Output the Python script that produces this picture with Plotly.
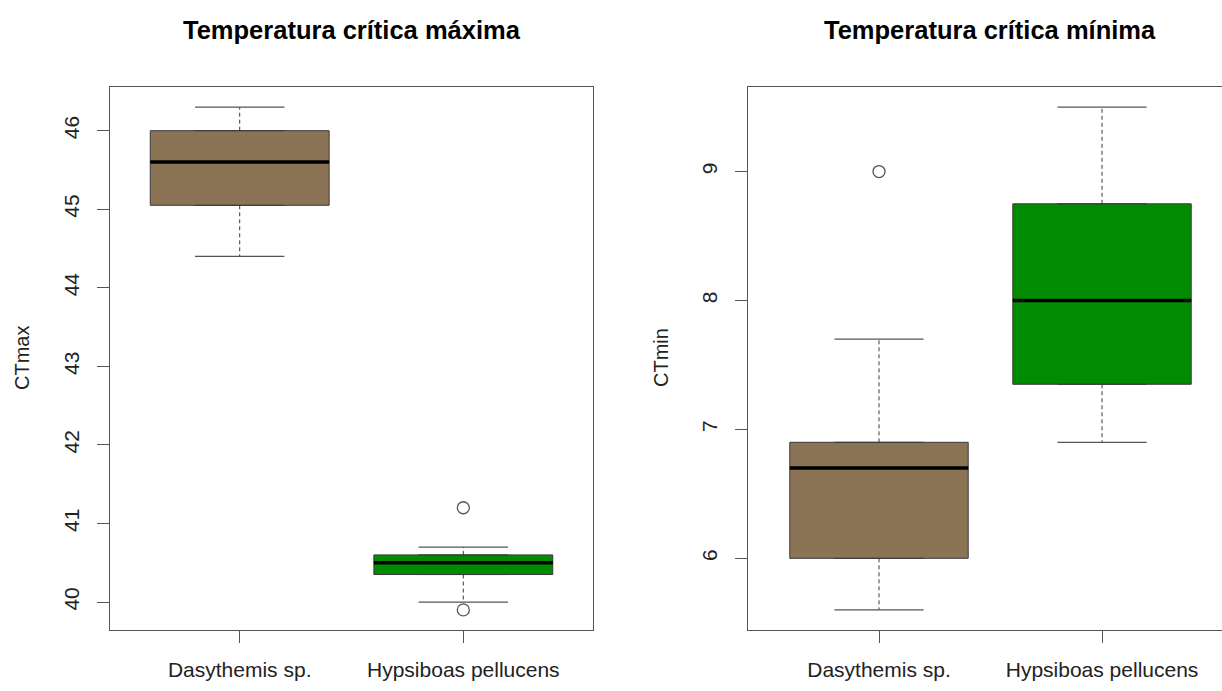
import plotly.graph_objects as go

# ---------------- data ----------------
species = ["Dasythemis sp.", "Hypsiboas pellucens"]
positions = [1, 2]
box_colors = ["#8B7355", "#008B00"]

# CTmax (Temperatura crítica máxima)
ctmax_low = [44.4, 40.0]
ctmax_q1 = [45.05, 40.35]
ctmax_median = [45.6, 40.5]
ctmax_q3 = [46.0, 40.6]
ctmax_high = [46.3, 40.7]
ctmax_out_x = [2, 2]
ctmax_out_y = [41.2, 39.9]
ctmax_ticks = [40, 41, 42, 43, 44, 45, 46]

# CTmin (Temperatura crítica mínima)
ctmin_low = [5.6, 6.9]
ctmin_q1 = [6.0, 7.35]
ctmin_median = [6.7, 8.0]
ctmin_q3 = [6.9, 8.75]
ctmin_high = [7.7, 9.5]
ctmin_out_x = [1]
ctmin_out_y = [9.0]
ctmin_ticks = [6, 7, 8, 9]

titles = ["Temperatura crítica máxima", "Temperatura crítica mínima"]
ylabels = ["CTmax", "CTmin"]

# ---------------- style ----------------
FONT = "Liberation Sans, Arial, sans-serif"
BOX_W = 0.8
STAPLE_W = 0.4
LINE_C = "#3a3a3a"
AXIS_C = "#555555"
W, H = 1222, 691

fig = go.Figure()


def add_panel(xa, ya, low, q1, med, q3, high, out_x, out_y):
    for i, pos in enumerate(positions):
        fig.add_trace(go.Box(
            x=[pos], q1=[q1[i]], median=[med[i]], q3=[q3[i]],
            lowerfence=[q1[i]], upperfence=[q3[i]],
            width=BOX_W, fillcolor=box_colors[i],
            line=dict(color=LINE_C, width=1),
            boxpoints=False, showlegend=False, hoverinfo="skip",
            xaxis=xa, yaxis=ya,
        ))
        # dashed whiskers
        fig.add_trace(go.Scatter(
            x=[pos, pos, None, pos, pos],
            y=[q3[i], high[i], None, q1[i], low[i]],
            mode="lines", line=dict(color=LINE_C, width=1, dash="4px,3px"),
            showlegend=False, hoverinfo="skip", xaxis=xa, yaxis=ya,
        ))
        # staples
        fig.add_trace(go.Scatter(
            x=[pos - STAPLE_W / 2, pos + STAPLE_W / 2, None,
               pos - STAPLE_W / 2, pos + STAPLE_W / 2],
            y=[high[i], high[i], None, low[i], low[i]],
            mode="lines", line=dict(color="#555555", width=1.3),
            showlegend=False, hoverinfo="skip", xaxis=xa, yaxis=ya,
        ))
        # thick median
        fig.add_trace(go.Scatter(
            x=[pos - BOX_W / 2, pos + BOX_W / 2],
            y=[med[i], med[i]],
            mode="lines", line=dict(color="black", width=3.5),
            showlegend=False, hoverinfo="skip", xaxis=xa, yaxis=ya,
        ))
    fig.add_trace(go.Scatter(
        x=out_x, y=out_y, mode="markers",
        marker=dict(symbol="circle-open", size=12, color="#555555",
                    line=dict(width=1.3, color="#555555")),
        showlegend=False, hoverinfo="skip", xaxis=xa, yaxis=ya,
    ))


add_panel("x", "y", ctmax_low, ctmax_q1, ctmax_median, ctmax_q3, ctmax_high,
          ctmax_out_x, ctmax_out_y)
add_panel("x2", "y2", ctmin_low, ctmin_q1, ctmin_median, ctmin_q3, ctmin_high,
          ctmin_out_x, ctmin_out_y)

tickfont = dict(family=FONT, size=21, color="#222222")
common_x = dict(
    tickvals=positions, ticktext=species, ticks="outside", ticklen=12,
    tickcolor=AXIS_C, tickwidth=1.3, showline=True, mirror=True,
    linecolor=AXIS_C, linewidth=1.3, showgrid=False, zeroline=False,
    tickfont=tickfont, ticklabelstandoff=9, automargin=False,
    fixedrange=True,
)
common_y = dict(
    ticks="outside", ticklen=12, tickcolor=AXIS_C, tickwidth=1.3,
    showline=True, linecolor=AXIS_C, linewidth=1.3, showgrid=False,
    zeroline=False, tickfont=tickfont, tickangle=-90, ticklabelstandoff=9,
    automargin=False, fixedrange=True,
)

y_dom = [(H - 630) / H, (H - 87) / H]

fig.update_layout(
    template="none",
    width=W, height=H,
    margin=dict(l=0, r=0, t=0, b=0),
    paper_bgcolor="white", plot_bgcolor="white",
    showlegend=False,
    boxmode="overlay",
    xaxis=dict(common_x, domain=[110 / W, 593 / W], range=[0.42, 2.58],
               anchor="y"),
    yaxis=dict(common_y, domain=y_dom, range=[39.644, 46.556],
               tickvals=ctmax_ticks, mirror=True, anchor="x"),
    xaxis2=dict(common_x, domain=[748 / W, 1.0], range=[0.4126, 2.538],
                anchor="y2"),
    yaxis2=dict(common_y, domain=y_dom, range=[5.444, 9.656],
                tickvals=ctmin_ticks, mirror=False, anchor="x2"),
    annotations=[
        dict(text=titles[0], x=351.5 / W, y=1 - 30 / H, xref="paper",
             yref="paper", showarrow=False, xanchor="center", yanchor="middle",
             font=dict(family=FONT, size=25.5, color="black", weight="bold")),
        dict(text=titles[1], x=989.5 / W, y=1 - 30 / H, xref="paper",
             yref="paper", showarrow=False, xanchor="center", yanchor="middle",
             font=dict(family=FONT, size=25.5, color="black", weight="bold")),
        dict(text=ylabels[0], x=22 / W, y=(H - 358) / H, xref="paper",
             yref="paper", showarrow=False, xanchor="center", yanchor="middle",
             textangle=-90, font=dict(family=FONT, size=20, color="#222222")),
        dict(text=ylabels[1], x=661 / W, y=(H - 358) / H, xref="paper",
             yref="paper", showarrow=False, xanchor="center", yanchor="middle",
             textangle=-90, font=dict(family=FONT, size=20, color="#222222")),
    ],
)

fig.write_html("out.html", config={"displayModeBar": False},
               post_script="document.body.style.margin='0';")
